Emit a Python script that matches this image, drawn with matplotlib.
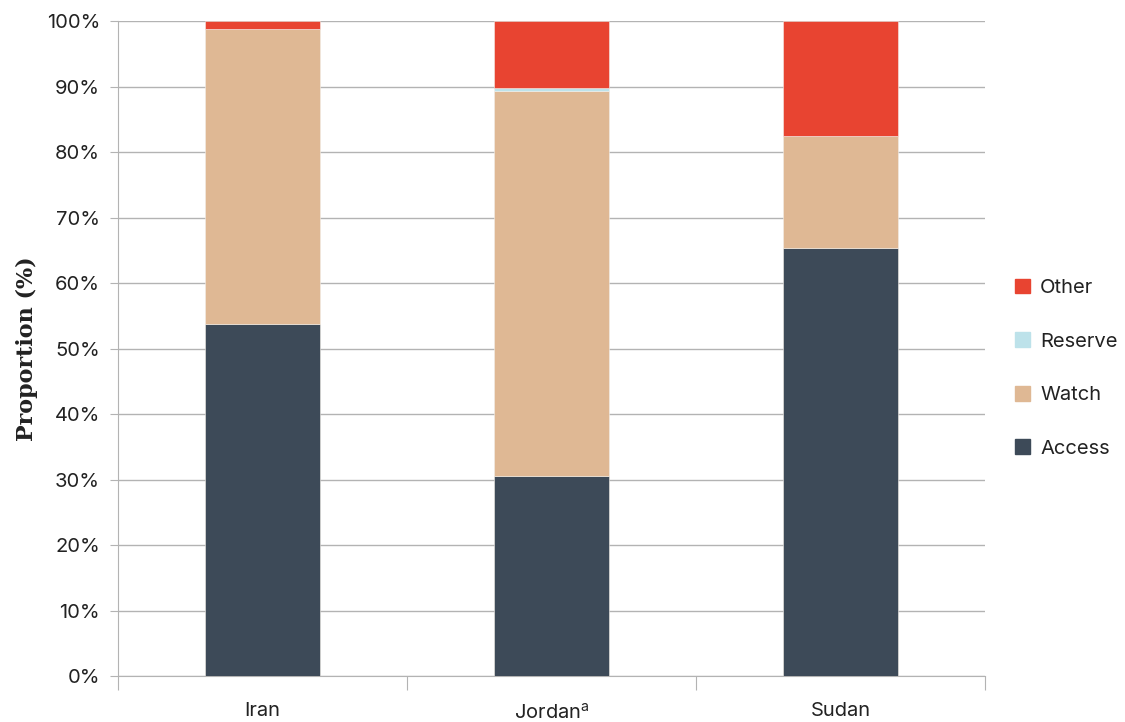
import numpy as np
import matplotlib
matplotlib.use('Agg')
import matplotlib.pyplot as plt
from matplotlib.patches import Patch

plt.rcParams['font.family'] = ['Inter', 'DejaVu Sans']
plt.rcParams['mathtext.fontset'] = 'custom'
plt.rcParams['mathtext.rm'] = 'Inter'

countries = ['Iran', 'Jordan$^{\\mathrm{a}}$', 'Sudan']
access = [53.7, 30.5, 65.3]
watch = [45.1, 58.8, 17.2]
reserve = [0.0, 0.5, 0.0]
other = [1.2, 10.2, 17.5]

names = ['Access', 'Watch', 'Reserve', 'Other']
colors = ['#3d4a58', '#dfb894', '#bde2ea', '#e84431']
series = [access, watch, reserve, other]

fig = plt.figure(figsize=(11.25, 7.22), dpi=100)
ax = fig.add_axes([0.1049, 0.0637, 0.7707, 0.9072])

x = np.arange(len(countries))
bottom = np.zeros(len(countries))
for vals, c in zip(series, colors):
    ax.bar(x, vals, 0.4, bottom=bottom, color=c, edgecolor='#f3eee8', linewidth=0.4, zorder=3)
    bottom += np.array(vals)

ax.set_xlim(-0.5, 2.5)
ax.set_ylim(0, 100)
ax.set_yticks(np.arange(0, 101, 10))
ax.set_yticklabels([f'{v}%' for v in range(0, 101, 10)])
ax.yaxis.grid(True, color='#b3b3b3', linewidth=1, zorder=0)
ax.set_axisbelow(True)

# category labels between boundary ticks
ax.set_xticks([-0.5, 0.5, 1.5, 2.5])
ax.set_xticklabels([])
ax.set_xticks(x, minor=True)
ax.set_xticklabels(countries, minor=True)
ax.tick_params(axis='x', which='major', length=10, color='#b3b3b3', direction='out')
ax.tick_params(axis='x', which='minor', length=0, pad=19, labelsize=14.5, labelcolor='#222222')
ax.tick_params(axis='y', length=6, color='#b3b3b3', labelsize=14.5, labelcolor='#222222', pad=7)

for s in ['top', 'right']:
    ax.spines[s].set_visible(False)
ax.spines['left'].set_color('#b3b3b3')
ax.spines['bottom'].set_color('#b3b3b3')

ax.set_ylabel('Proportion (%)', family='DejaVu Serif', fontweight='bold', fontsize=16,
              color='#222222', labelpad=6)

handles = [Patch(color=c, label=n) for n, c in zip(names, colors)][::-1]
fig.legend(handles=handles, loc='center left', bbox_to_anchor=(0.886, 0.49), frameon=False,
           fontsize=14.5, handlelength=0.75, handleheight=0.75, handletextpad=0.5, labelspacing=1.75,
           labelcolor='#222222')

fig.savefig('out.png', dpi=100)
